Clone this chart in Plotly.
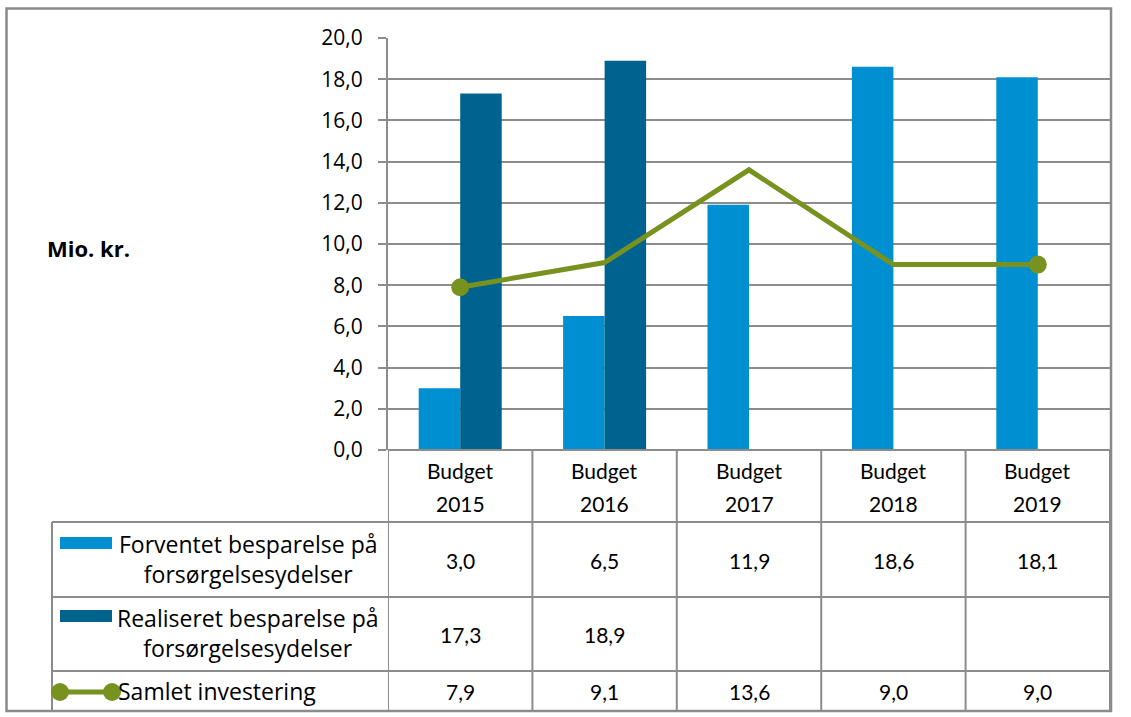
import plotly.graph_objects as go

categories = ["Budget 2015", "Budget 2016", "Budget 2017", "Budget 2018", "Budget 2019"]
cat_lines = [["Budget", "2015"], ["Budget", "2016"], ["Budget", "2017"], ["Budget", "2018"], ["Budget", "2019"]]
forventet = [3.0, 6.5, 11.9, 18.6, 18.1]
realiseret = [17.3, 18.9, None, None, None]
samlet = [7.9, 9.1, 13.6, 9.0, 9.0]
series_names = ["Forventet besparelse på<br>forsørgelsesydelser",
                "Realiseret besparelse på<br>forsørgelsesydelser",
                "Samlet investering"]
y_ticks = [0, 2, 4, 6, 8, 10, 12, 14, 16, 18, 20]

C_LIGHT = "#0090D1"
C_DARK = "#00628F"
C_GREEN = "#77921F"
GRID = "#8C8C8C"
FONT = "Open Sans"
NARROW = "Lato"

W, H = 1131, 717
L, R, T, B = 388, 1110, 38, 450


def px(x):
    return (x - L) / (R - L)


def py(y):
    return (B - y) / (B - T)


def fmt(v):
    return "" if v is None else f"{v:.1f}".replace(".", ",")


fig = go.Figure()
fig.add_bar(x=categories, y=forventet, marker=dict(color=C_LIGHT, line=dict(width=0)), name="Forventet")
fig.add_bar(x=categories, y=realiseret, marker=dict(color=C_DARK, line=dict(width=0)), name="Realiseret")
fig.add_scatter(x=categories, y=samlet, mode="lines+markers",
                line=dict(color=C_GREEN, width=5),
                marker=dict(color=C_GREEN, size=[18, 0, 0, 0, 18], opacity=1, line=dict(width=0)),
                name="Samlet")

shapes = []
annotations = []

# outer chart border
shapes.append(dict(type="rect", xref="paper", yref="paper",
                   x0=px(6.5), x1=px(1111), y0=py(711), y1=py(8.5),
                   line=dict(color="#8A8A8A", width=2.5), layer="below"))

# table rows (y pixel boundaries)
row_y = [450, 522, 597, 671, 711]
shapes.append(dict(type="line", xref="paper", yref="paper", x0=px(388), x1=px(1110),
                   y0=py(450), y1=py(450), line=dict(color=GRID, width=2)))
for yy in row_y[1:]:
    shapes.append(dict(type="line", xref="paper", yref="paper", x0=px(52), x1=px(1110),
                       y0=py(yy), y1=py(yy), line=dict(color=GRID, width=2)))
for i in range(len(categories) + 1):
    shapes.append(dict(type="line", xref="x", yref="paper", x0=i - 0.5, x1=i - 0.5,
                       y0=py(450), y1=py(711), line=dict(color=GRID, width=2)))
shapes.append(dict(type="line", xref="paper", yref="paper", x0=px(52), x1=px(52),
                   y0=py(522), y1=py(711), line=dict(color=GRID, width=2)))

# header cells (two lines each)
head_font = dict(size=21, family=NARROW, color="#000")
for i, lines in enumerate(cat_lines):
    for j, (line_txt, yy) in enumerate(zip(lines, (470, 503))):
        annotations.append(dict(xref="x", yref="paper", x=i, y=py(yy), text=line_txt,
                                showarrow=False, xanchor="center", yanchor="middle",
                                font=head_font))

# values
row_centers = [560, 634, 691]
for r, series in enumerate([forventet, realiseret, samlet]):
    for i, v in enumerate(series):
        if v is None:
            continue
        annotations.append(dict(xref="x", yref="paper", x=i, y=py(row_centers[r]), text=fmt(v),
                                showarrow=False, xanchor="center", yanchor="middle",
                                font=head_font))

# legend keys & labels
shapes.append(dict(type="rect", xref="paper", yref="paper", x0=px(60), x1=px(112),
                   y0=py(549), y1=py(537), fillcolor=C_LIGHT, line=dict(width=0)))
shapes.append(dict(type="rect", xref="paper", yref="paper", x0=px(60), x1=px(112),
                   y0=py(622), y1=py(610), fillcolor=C_DARK, line=dict(width=0)))
shapes.append(dict(type="line", xref="paper", yref="paper", x0=px(60), x1=px(112),
                   y0=py(692), y1=py(692), line=dict(color=C_GREEN, width=5)))
for cx in (60, 112):
    shapes.append(dict(type="circle", xref="paper", yref="paper", x0=px(cx - 9), x1=px(cx + 9),
                       y0=py(701), y1=py(683), fillcolor=C_GREEN, line=dict(width=0)))

lab_font = dict(size=23, family=FONT, color="#000")
annotations.append(dict(xref="paper", yref="paper", x=px(248), y=py(559), text=series_names[0],
                        showarrow=False, align="center", xanchor="center", yanchor="middle", font=lab_font))
annotations.append(dict(xref="paper", yref="paper", x=px(248), y=py(633), text=series_names[1],
                        showarrow=False, align="center", xanchor="center", yanchor="middle", font=lab_font))
annotations.append(dict(xref="paper", yref="paper", x=px(116), y=py(691), text=series_names[2],
                        showarrow=False, xanchor="left", yanchor="middle", font=lab_font))

# axis title
annotations.append(dict(xref="paper", yref="paper", x=px(88), y=py(248), text="<b>Mio. kr.</b>",
                        showarrow=False, xanchor="center", yanchor="middle",
                        font=dict(size=22, family=FONT, color="#000")))

fig.update_layout(
    width=W, height=H,
    margin=dict(l=L, r=W - R, t=T, b=H - B, pad=0),
    paper_bgcolor="white", plot_bgcolor="white",
    barmode="group", bargap=0.425, bargroupgap=0,
    showlegend=False,
    separators=", ",
    font=dict(family=FONT, size=20, color="#000"),
    shapes=shapes, annotations=annotations,
    xaxis=dict(range=[-0.5, 4.5], showticklabels=False, showgrid=False, zeroline=False,
               showline=False, ticks=""),
    yaxis=dict(range=[0, 20], tickvals=y_ticks, tickformat=".1f", showgrid=True,
               gridcolor=GRID, gridwidth=2, zeroline=False, showline=True, linecolor=GRID,
               linewidth=2, ticks="outside", ticklen=8, tickcolor=GRID, tickwidth=2,
               ticklabelstandoff=11, tickfont=dict(size=21, family=FONT, color="#000")),
)

fig.write_html("out.html", config={"displayModeBar": False},
               post_script="document.body.style.margin='0';document.body.style.overflow='hidden';")
